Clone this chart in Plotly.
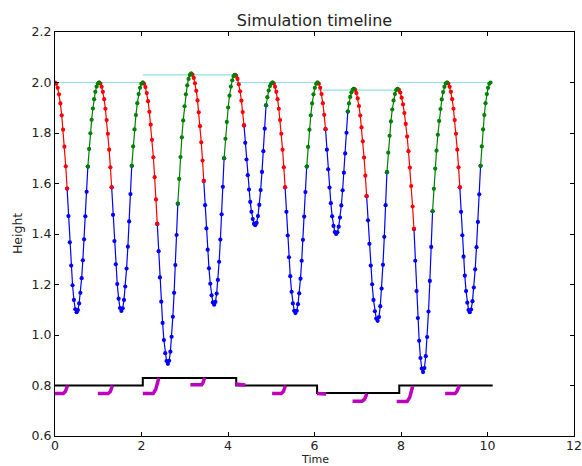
import plotly.graph_objects as go

# ---- Hopper height trace, split by phase -------------------------------
# falling flight (apex -> touchdown), drawn red
fall_t = [
    [0.0, 0.031, 0.062, 0.093, 0.124, 0.156, 0.187, 0.218, 0.249, 0.28],
    [1.02, 1.049, 1.078, 1.107, 1.136, 1.165, 1.194, 1.223, 1.252, 1.281, 1.31],
    [2.03, 2.060, 2.091, 2.121, 2.152, 2.182, 2.213, 2.243, 2.274, 2.304, 2.335, 2.365],
    [3.15, 3.179, 3.208, 3.237, 3.266, 3.295, 3.324, 3.353, 3.382, 3.411, 3.44],
    [4.16, 4.19, 4.22, 4.25, 4.28, 4.31, 4.34, 4.37],
    [5.03, 5.059, 5.088, 5.117, 5.146, 5.175, 5.204, 5.233, 5.262, 5.291, 5.32],
    [6.07, 6.101, 6.132, 6.163, 6.193, 6.224, 6.255],
    [6.91, 6.940, 6.969, 6.999, 7.028, 7.058, 7.087, 7.117, 7.146, 7.176, 7.205],
    [7.92, 7.952, 7.983, 8.015, 8.047, 8.078, 8.11, 8.142, 8.173, 8.205, 8.237, 8.268, 8.30],
    [9.065, 9.095, 9.124, 9.154, 9.183, 9.213, 9.242, 9.272, 9.301, 9.331, 9.36],
]
fall_h = [
    [2.000, 1.995, 1.979, 1.953, 1.917, 1.870, 1.813, 1.746, 1.668, 1.580],
    [2.000, 1.996, 1.983, 1.963, 1.934, 1.896, 1.851, 1.797, 1.734, 1.664, 1.585],
    [2.000, 1.995, 1.982, 1.958, 1.926, 1.884, 1.833, 1.773, 1.704, 1.625, 1.537, 1.440],
    [2.035, 2.031, 2.018, 1.997, 1.967, 1.929, 1.882, 1.827, 1.763, 1.691, 1.610],
    [2.030, 2.026, 2.014, 1.993, 1.965, 1.928, 1.883, 1.830],
    [2.000, 1.996, 1.983, 1.963, 1.934, 1.896, 1.851, 1.797, 1.734, 1.664, 1.585],
    [2.000, 1.995, 1.979, 1.954, 1.918, 1.872, 1.815],
    [1.975, 1.971, 1.958, 1.937, 1.907, 1.869, 1.822, 1.767, 1.703, 1.631, 1.550],
    [1.975, 1.971, 1.960, 1.940, 1.913, 1.879, 1.836, 1.786, 1.728, 1.663, 1.590, 1.509, 1.420],
    [2.000, 1.996, 1.983, 1.963, 1.934, 1.896, 1.851, 1.797, 1.734, 1.664, 1.585],
]

# stance (touchdown -> compression -> liftoff), drawn blue
stance_t = [
    [0.28, 0.311, 0.343, 0.374, 0.406, 0.437, 0.469, 0.50, 0.529, 0.558, 0.587, 0.616, 0.644, 0.673, 0.702, 0.731, 0.76],
    [1.31, 1.342, 1.374, 1.406, 1.439, 1.471, 1.503, 1.535, 1.565, 1.595, 1.625, 1.655, 1.685, 1.715, 1.745, 1.775],
    [2.365, 2.396, 2.426, 2.457, 2.488, 2.518, 2.549, 2.579, 2.61, 2.639, 2.668, 2.696, 2.725, 2.754, 2.783, 2.811, 2.84],
    [3.44, 3.47, 3.50, 3.53, 3.56, 3.59, 3.62, 3.65, 3.68, 3.709, 3.738, 3.766, 3.795, 3.824, 3.853, 3.881, 3.91],
    [4.37, 4.399, 4.428, 4.457, 4.486, 4.514, 4.543, 4.572, 4.601, 4.63, 4.661, 4.693, 4.724, 4.755, 4.786, 4.818, 4.849, 4.88],
    [5.32, 5.35, 5.38, 5.41, 5.44, 5.47, 5.50, 5.53, 5.56, 5.589, 5.618, 5.647, 5.676, 5.704, 5.733, 5.762, 5.791, 5.82],
    [6.255, 6.286, 6.316, 6.347, 6.378, 6.408, 6.439, 6.469, 6.50, 6.53, 6.56, 6.59, 6.62, 6.65, 6.68, 6.71, 6.74, 6.77],
    [7.205, 7.237, 7.269, 7.301, 7.333, 7.364, 7.396, 7.428, 7.46, 7.491, 7.521, 7.552, 7.583, 7.614, 7.644, 7.675],
    [8.30, 8.33, 8.36, 8.39, 8.42, 8.45, 8.48, 8.51, 8.541, 8.573, 8.604, 8.636, 8.667, 8.699, 8.73],
    [9.36, 9.389, 9.418, 9.446, 9.475, 9.504, 9.533, 9.561, 9.59, 9.621, 9.653, 9.684, 9.715, 9.746, 9.778, 9.809, 9.84],
]
stance_h = [
    [1.580, 1.471, 1.367, 1.275, 1.197, 1.139, 1.102, 1.090, 1.099, 1.125, 1.167, 1.225, 1.296, 1.379, 1.470, 1.567, 1.667],
    [1.585, 1.476, 1.372, 1.280, 1.202, 1.144, 1.107, 1.095, 1.106, 1.139, 1.192, 1.263, 1.350, 1.450, 1.558, 1.670],
    [1.440, 1.332, 1.228, 1.132, 1.048, 0.980, 0.928, 0.897, 0.886, 0.898, 0.934, 0.993, 1.072, 1.167, 1.277, 1.396, 1.520],
    [1.610, 1.514, 1.422, 1.338, 1.264, 1.203, 1.157, 1.129, 1.120, 1.131, 1.164, 1.218, 1.290, 1.378, 1.478, 1.587, 1.700],
    [1.830, 1.761, 1.695, 1.633, 1.576, 1.527, 1.488, 1.459, 1.441, 1.435, 1.444, 1.471, 1.515, 1.574, 1.646, 1.728, 1.817, 1.910],
    [1.585, 1.488, 1.394, 1.308, 1.233, 1.171, 1.125, 1.096, 1.087, 1.096, 1.122, 1.165, 1.223, 1.294, 1.377, 1.469, 1.566, 1.667],
    [1.815, 1.734, 1.656, 1.584, 1.522, 1.470, 1.432, 1.408, 1.400, 1.407, 1.429, 1.465, 1.513, 1.573, 1.643, 1.719, 1.801, 1.885],
    [1.550, 1.454, 1.361, 1.275, 1.201, 1.139, 1.094, 1.065, 1.056, 1.071, 1.114, 1.184, 1.278, 1.389, 1.514, 1.645],
    [1.420, 1.294, 1.174, 1.067, 0.977, 0.909, 0.867, 0.853, 0.869, 0.916, 0.992, 1.093, 1.214, 1.349, 1.490],
    [1.585, 1.488, 1.395, 1.310, 1.235, 1.174, 1.128, 1.099, 1.090, 1.101, 1.134, 1.188, 1.260, 1.348, 1.448, 1.557, 1.670],
]

# rising flight (liftoff -> apex), drawn green
rise_t = [
    [0.76, 0.789, 0.818, 0.847, 0.876, 0.904, 0.933, 0.962, 0.991, 1.02],
    [1.775, 1.807, 1.839, 1.871, 1.903, 1.934, 1.966, 1.998, 2.03],
    [2.84, 2.871, 2.902, 2.933, 2.964, 2.995, 3.026, 3.057, 3.088, 3.119, 3.15],
    [3.91, 3.941, 3.973, 4.004, 4.035, 4.066, 4.098, 4.129, 4.16],
    [4.88, 4.91, 4.94, 4.97, 5.00, 5.03],
    [5.82, 5.851, 5.883, 5.914, 5.945, 5.976, 6.008, 6.039, 6.07],
    [6.77, 6.798, 6.826, 6.854, 6.882, 6.91],
    [7.675, 7.706, 7.736, 7.767, 7.798, 7.828, 7.859, 7.889, 7.92],
    [8.73, 8.760, 8.791, 8.821, 8.852, 8.882, 8.913, 8.943, 8.974, 9.004, 9.035, 9.065],
    [9.84, 9.869, 9.898, 9.926, 9.955, 9.984, 10.013, 10.041, 10.07],
]
rise_h = [
    [1.667, 1.737, 1.799, 1.852, 1.897, 1.934, 1.963, 1.984, 1.996, 2.000],
    [1.670, 1.747, 1.814, 1.871, 1.918, 1.954, 1.979, 1.995, 2.000],
    [1.520, 1.618, 1.705, 1.783, 1.850, 1.906, 1.953, 1.989, 2.014, 2.030, 2.035],
    [1.700, 1.777, 1.844, 1.901, 1.948, 1.984, 2.009, 2.025, 2.030],
    [1.910, 1.942, 1.968, 1.986, 1.996, 2.000],
    [1.667, 1.745, 1.813, 1.870, 1.917, 1.953, 1.979, 1.995, 2.000],
    [1.885, 1.917, 1.943, 1.961, 1.971, 1.975],
    [1.645, 1.722, 1.789, 1.846, 1.893, 1.929, 1.954, 1.970, 1.975],
    [1.490, 1.579, 1.659, 1.730, 1.793, 1.848, 1.895, 1.933, 1.962, 1.983, 1.996, 2.000],
    [1.670, 1.747, 1.814, 1.871, 1.918, 1.954, 1.979, 1.995, 2.000],
]

# ---- Apex height targets (piecewise constant) --------------------------
target_start = [0.0, 2.03, 4.16, 6.07, 7.92]
target_end = [2.03, 4.16, 6.07, 7.92, 10.07]
target_apex = [2.00, 2.03, 2.00, 1.97, 2.00]

# ---- Commanded leg setting (step signal) -------------------------------
command_t = [0.0, 2.03, 4.19, 6.06, 7.96, 10.12]
command_v = [0.80, 0.83, 0.80, 0.77, 0.80, 0.80]

# ---- Leg adjustment during each descent --------------------------------
leg_t = [
    [0.00, 0.19, 0.24, 0.27, 0.29],
    [0.99, 1.23, 1.28, 1.31, 1.33],
    [2.03, 2.27, 2.33, 2.37, 2.40],
    [3.13, 3.39, 3.42, 3.44, 3.46],
    [4.17, 4.30, 4.40],
    [5.02, 5.23, 5.28, 5.31, 5.33],
    [6.06, 6.17, 6.27],
    [6.88, 7.10, 7.16, 7.19, 7.21],
    [7.90, 8.14, 8.20, 8.24, 8.27],
    [9.02, 9.25, 9.29, 9.32, 9.35],
]
leg_v = [
    [0.768, 0.768, 0.776, 0.788, 0.800],
    [0.768, 0.768, 0.776, 0.788, 0.800],
    [0.768, 0.768, 0.785, 0.808, 0.830],
    [0.803, 0.803, 0.810, 0.820, 0.831],
    [0.806, 0.804, 0.802],
    [0.768, 0.768, 0.776, 0.788, 0.800],
    [0.768, 0.767, 0.766],
    [0.738, 0.738, 0.746, 0.757, 0.768],
    [0.737, 0.737, 0.752, 0.775, 0.797],
    [0.768, 0.768, 0.776, 0.788, 0.800],
]


def joined(parts):
    """Concatenate segments, separated by gaps."""
    out = []
    for i, p in enumerate(parts):
        if i:
            out.append(None)
        out.extend(p)
    return out


fig = go.Figure()

# target apex lines
tx, ty = [], []
for a, b, v in zip(target_start, target_end, target_apex):
    tx += [a, b, None]
    ty += [v, v, None]
fig.add_trace(go.Scatter(x=tx, y=ty, mode="lines",
                         line=dict(color="rgba(0,191,191,0.45)", width=1.2),
                         hoverinfo="skip"))

for ts, hs, col in [(stance_t, stance_h, "#0000ff"),
                    (fall_t, fall_h, "#ff0000"),
                    (rise_t, rise_h, "#008000")]:
    fig.add_trace(go.Scatter(x=joined(ts), y=joined(hs), mode="lines+markers",
                             line=dict(color=col, width=1.2),
                             marker=dict(color=col, size=4.2),
                             connectgaps=False))

fig.add_trace(go.Scatter(x=command_t, y=command_v, mode="lines",
                         line=dict(color="black", width=2, shape="hv")))

fig.add_trace(go.Scatter(x=joined(leg_t), y=joined(leg_v), mode="lines",
                         line=dict(color="#bf00bf", width=3.5),
                         connectgaps=False))

font = "DejaVu Sans, sans-serif"
axis_common = dict(showline=True, linecolor="black", linewidth=1, mirror="allticks",
                   ticks="inside", ticklen=4, tickcolor="black", showgrid=False,
                   zeroline=False, automargin=False,
                   tickfont=dict(family=font, size=12.5, color="#222"))

fig.update_layout(
    width=582, height=466,
    margin=dict(l=55, r=8, t=32, b=30),
    paper_bgcolor="white", plot_bgcolor="white",
    showlegend=False,
    title=dict(text="Simulation timeline", x=0.5, xref="paper",
               y=1 - 20 / 466, yanchor="middle", yref="container",
               font=dict(family=font, size=16, color="#222")),
    xaxis=dict(range=[0, 12], tick0=0, dtick=2, ticklabelstandoff=-2, **axis_common),
    yaxis=dict(range=[0.6, 2.2], tick0=0.6, dtick=0.2, tickformat=".1f", **axis_common),
    annotations=[
        dict(text="Time", x=0.5, xref="paper", y=-0.0755, yref="paper",
             yanchor="bottom", showarrow=False, borderpad=0,
             font=dict(family=font, size=11, color="#222")),
        dict(text="Height", x=-0.073, xref="paper", y=0.5, yref="paper",
             textangle=-90, xanchor="center", yanchor="middle", showarrow=False,
             font=dict(family=font, size=12.5, color="#222")),
    ],
)

fig.write_html("out.html")
